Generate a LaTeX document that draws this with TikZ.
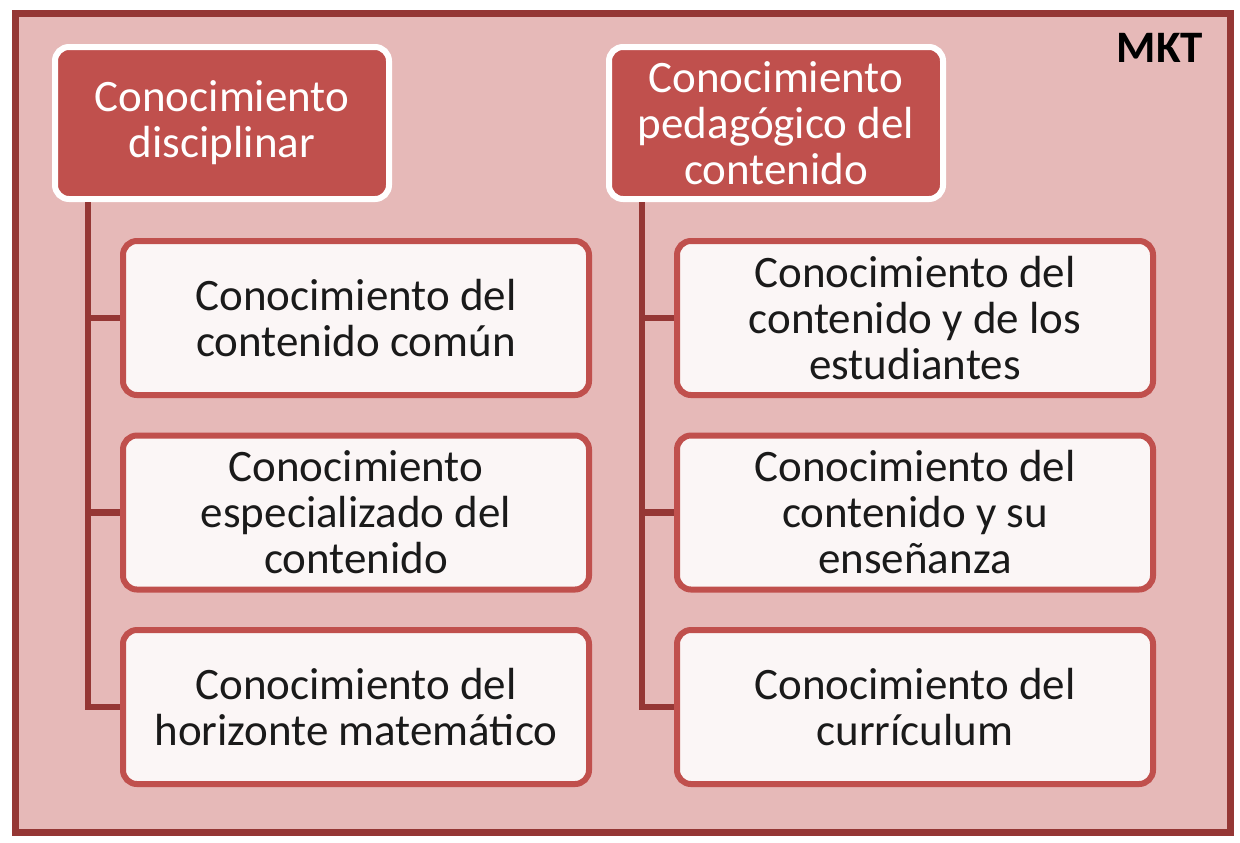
\documentclass[tikz,border=0pt]{standalone}
\usepackage{fontspec}
\setmainfont{Carlito}
\usepackage{tikz}
\definecolor{mktframe}{HTML}{953735}
\definecolor{mktpink}{HTML}{E6B9B8}
\definecolor{mktred}{HTML}{C0504D}
\definecolor{mktpaper}{HTML}{FBF6F6}
\definecolor{mkttext}{HTML}{1A1A1A}
\tikzset{
  headbox/.style={draw=white, line width=3pt, fill=mktred, rounded corners=7pt,
    text=white, align=center, minimum width=167pt, minimum height=76pt,
    font=\fontsize{22.5}{23}\selectfont},
  subbox/.style={draw=mktred, line width=3pt, fill=mktpaper, rounded corners=7pt,
    text=mkttext, align=center, minimum height=77pt,
    font=\fontsize{22.5}{23}\selectfont},
  branch/.style={draw=mktframe, line width=3.3pt}
}

\begin{document}
\begin{tikzpicture}[x=0.5pt,y=-0.5pt]
\useasboundingbox (0,0) rectangle (1240,842);
\draw[mktframe, fill=mktpink, line width=3.5pt] (15.5,13.5) rectangle (1230.5,832.5);
\node[anchor=east, font=\fontsize{22.5}{24}\selectfont\bfseries] (mkt) at (1210,48) {MKT};

% disciplinar
\node[headbox] (hdis) at (222,123) {Conocimiento\\disciplinar};
\node[subbox, minimum width=233pt] (ccc) at (356,318) {Conocimiento del\\contenido común};
\node[subbox, minimum width=233pt] (cec) at (356,512.5) {Conocimiento\\especializado del\\contenido};
\node[subbox, minimum width=233pt] (chm) at (356,707) {Conocimiento del\\horizonte matemático};

% pedagogico
\node[headbox] (hped) at (776,123) {Conocimiento\\pedagógico del\\contenido};
\node[subbox, minimum width=238pt] (cce) at (915,318) {Conocimiento del\\contenido y de los\\estudiantes};
\node[subbox, minimum width=238pt] (ccs) at (915,512.5) {Conocimiento del\\contenido y su\\enseñanza};
\node[subbox, minimum width=238pt] (ccu) at (915,707) {Conocimiento del\\currículum};

\coordinate (ldis) at (88,202);
\coordinate (lped) at (642,202);
\draw[branch] (ldis) |- (chm.west);
\draw[branch] (ldis |- ccc.west) -- (ccc.west);
\draw[branch] (ldis |- cec.west) -- (cec.west);
\draw[branch] (lped) |- (ccu.west);
\draw[branch] (lped |- cce.west) -- (cce.west);
\draw[branch] (lped |- ccs.west) -- (ccs.west);
\end{tikzpicture}
\end{document}
